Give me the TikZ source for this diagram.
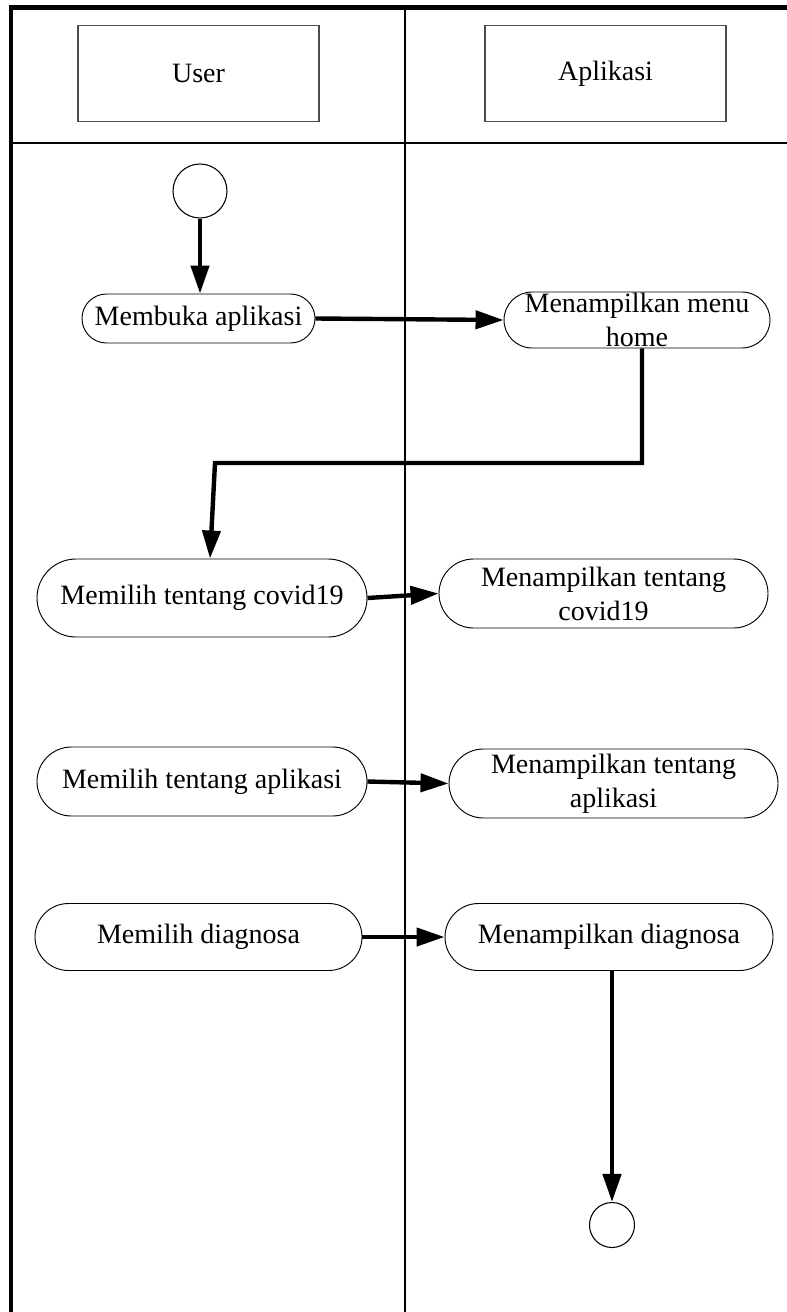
\documentclass[tikz,border=0pt]{standalone}
\usepackage{fontspec}
\setmainfont{Liberation Serif}
\usetikzlibrary{arrows.meta,shapes.misc}
\begin{document}
\begin{tikzpicture}[x=0.75pt,y=-0.75pt,
  lane/.style={line width=0.8pt, draw=black},
  frame/.style={line width=3.6pt, draw=black, line join=miter},
  header/.style={draw=black!70, line width=0.8pt, minimum width=241*0.75pt,
    minimum height=96*0.75pt, inner sep=0pt, font=\fontsize{21}{25}\selectfont},
  act/.style={rounded rectangle, draw=black, line width=0.7pt, inner sep=0pt},
  lbl/.style={align=center, font=\fontsize{21}{25.5}\selectfont, inner sep=0pt},
  flow/.style={line width=3.3pt, line join=miter, -{Triangle[length=21pt,width=13.5pt]}},
  startend/.style={circle, draw=black, line width=0.8pt, inner sep=0pt}
]
\useasboundingbox (0,0) rectangle (787,1312);

% swimlane frame and lane separators
\draw[lane] (405,7) -- (405,1312);
\draw[lane] (11,143) -- (787,143);
\draw[frame] (11,1312) -- (11,7.5) -- (787,7.5);

% lane headers
\node[header] (user) at (198.5,73.5) {User};
\node[header] (app) at (605.5,73.5) {Aplikasi};

% initial node
\node[startend, minimum size=54*0.75pt] (start) at (200,191) {};

% activities
\node[act, minimum width=233*0.75pt, minimum height=49*0.75pt] (buka) at (198.5,318.5) {};
\node[lbl] at (buka) {Membuka aplikasi};

\node[act, minimum width=266*0.75pt, minimum height=56*0.75pt] (home) at (637,320) {};
\node[lbl] at (home) {Menampilkan menu\\home};

\node[act, minimum width=330*0.75pt, minimum height=78*0.75pt] (covidU) at (202,598) {};
\node[lbl] at (covidU) {Memilih tentang covid19};

\node[act, minimum width=329*0.75pt, minimum height=69*0.75pt] (covidA) at (603.5,593.5) {};
\node[lbl] at (covidA) {Menampilkan tentang\\covid19};

\node[act, minimum width=330*0.75pt, minimum height=69*0.75pt] (aplU) at (202,781.5) {};
\node[lbl] at (aplU) {Memilih tentang aplikasi};

\node[act, minimum width=329*0.75pt, minimum height=69*0.75pt] (aplA) at (613.5,783.5) {};
\node[lbl] at (aplA) {Menampilkan tentang\\aplikasi};

\node[act, minimum width=327*0.75pt, minimum height=67*0.75pt] (diagU) at (198.5,937) {};
\node[lbl] at (diagU) {Memilih diagnosa};

\node[act, minimum width=328*0.75pt, minimum height=67*0.75pt] (diagA) at (609,937) {};
\node[lbl] at (diagA) {Menampilkan diagnosa};

% final node
\node[startend, minimum size=45*0.75pt] (finish) at (612,1225) {};

% control flow
\coordinate (h1) at (642,463);
\coordinate (h2) at (215,463);

\draw[flow] (start) -- (start |- buka.north);
\draw[flow] (buka.east) -- (home.west);
\draw[flow] ([xshift=3.75pt]home.south) -- (h1) -- (h2) -- ([xshift=6pt]covidU.north);
\draw[flow] (covidU.east) -- (covidA.west);
\draw[flow] (aplU.east) -- (aplA.west);
\draw[flow] (diagU.east) -- (diagA.west);
\draw[flow] (finish |- diagA.south) -- (finish.north);
\end{tikzpicture}
\end{document}
